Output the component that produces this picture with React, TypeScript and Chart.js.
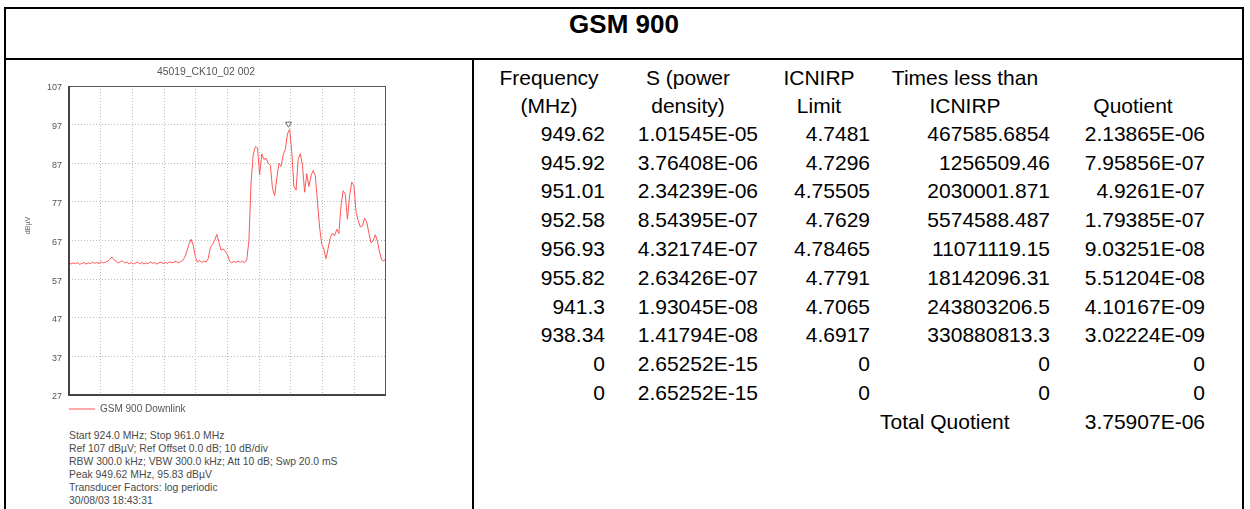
import React, { useEffect, useRef } from "react";
import { Chart, registerables } from "chart.js";

Chart.register(...registerables);

// ---------- spectrum data ----------
const START_MHZ = 924;
const STOP_MHZ = 961;
const STEP_MHZ = 0.25;
const X_DIVISIONS = 10;
const Y_MIN = 27;
const Y_MAX = 107;
const Y_STEP = 10;

const LEVELS_DBUV = [
  61.4, 60.9, 61.2, 61.0, 61.3, 60.8, 61.1, 61.3, 60.9, 61.2,
  61.0, 61.4, 61.1, 61.3, 61.0, 61.5, 61.2, 61.4, 61.6, 62.1,
  62.7, 62.0, 61.6, 61.2, 61.5, 61.7, 61.2, 61.4, 61.0, 61.3,
  60.9, 61.2, 61.4, 61.0, 61.3, 60.9, 61.2, 61.0, 61.5, 61.1,
  61.3, 60.9, 61.2, 61.4, 61.0, 61.3, 61.1, 61.5, 61.2, 61.4,
  61.6, 61.2, 61.5, 61.8, 62.6, 64.2, 66.0, 67.3, 65.8, 62.8,
  61.4, 61.9, 61.3, 61.7, 61.4, 62.3, 65.2, 66.0, 67.0, 68.6,
  66.5, 64.5, 64.8, 64.2, 63.3, 61.6, 61.2, 61.6, 61.3, 61.7,
  61.4, 61.6, 61.3, 62.0, 67.0, 82.0, 89.2, 91.3, 91.0, 84.0,
  89.4, 88.0, 88.3, 87.0, 86.5, 80.5, 78.6, 83.0, 87.0, 86.2,
  89.2, 90.6, 94.6, 95.8, 90.0, 81.0, 80.0, 88.0, 89.5, 86.5,
  79.5, 84.3, 81.0, 83.8, 85.1, 83.8, 77.0, 70.5, 66.0, 64.8,
  62.3, 65.0, 67.8, 68.9, 68.2, 69.9, 68.8, 76.0, 79.9, 79.0,
  72.5, 78.5, 82.1, 81.2, 74.5, 72.2, 70.5, 70.8, 72.8, 71.8,
  69.0, 66.4, 66.9, 68.5, 66.8, 64.0, 62.0, 61.7, 62.5,
];

const PEAK_MHZ = 949.62;
const PEAK_DBUV = 95.83;

const CHART_TITLE = "45019_CK10_02 002";
const TRACE_LABEL = "GSM 900 Downlink";
const Y_UNIT = "dBµV";

const INFO_LINES = [
  "Start 924.0 MHz; Stop 961.0 MHz",
  "Ref 107 dBµV; Ref Offset 0.0 dB; 10 dB/div",
  "RBW 300.0 kHz; VBW 300.0 kHz; Att 10 dB; Swp 20.0 mS",
  "Peak 949.62 MHz, 95.83 dBµV",
  "Transducer Factors: log periodic",
  "30/08/03 18:43:31",
];

// ---------- table data ----------
const TABLE_TITLE = "GSM 900";
const HEADER_LINE1 = ["Frequency", "S (power", "ICNIRP", "Times less than", ""];
const HEADER_LINE2 = ["(MHz)", "density)", "Limit", "ICNIRP", "Quotient"];
const FREQ_COL = ["949.62", "945.92", "951.01", "952.58", "956.93", "955.82", "941.3", "938.34", "0", "0"];
const S_COL = ["1.01545E-05", "3.76408E-06", "2.34239E-06", "8.54395E-07", "4.32174E-07", "2.63426E-07", "1.93045E-08", "1.41794E-08", "2.65252E-15", "2.65252E-15"];
const LIMIT_COL = ["4.7481", "4.7296", "4.75505", "4.7629", "4.78465", "4.7791", "4.7065", "4.6917", "0", "0"];
const TIMES_COL = ["467585.6854", "1256509.46", "2030001.871", "5574588.487", "11071119.15", "18142096.31", "243803206.5", "330880813.3", "0", "0"];
const QUOT_COL = ["2.13865E-06", "7.95856E-07", "4.9261E-07", "1.79385E-07", "9.03251E-08", "5.51204E-08", "4.10167E-09", "3.02224E-09", "0", "0"];
const TOTAL_LABEL = "Total Quotient";
const TOTAL_VALUE = "3.75907E-06";

// ---------- layout ----------
const SANS = '"Liberation Sans", Arial, sans-serif';
const COL_RIGHT = [605, 758, 870, 1050, 1205];
const COL_CENTER = [549, 688, 819, 965, 1133];
const HEAD_BASE = [85, 112.5];
const ROW_BASE0 = 140.5;
const ROW_STEP = 28.8;
const TXT = 21;
const TXT_OFF = 17.78; // baseline offset for 21px font with 21px line-height
const TRACE_COLOR = "rgb(255,85,85)";

const framePlugin = {
  id: "frame",
  afterDatasetsDraw(chart: any) {
    const { ctx, chartArea: a, scales } = chart;
    ctx.save();
    ctx.strokeStyle = "#5a5a5a";
    ctx.lineWidth = 1;
    ctx.strokeRect(a.left + 0.5, a.top + 0.5, a.right - a.left - 1, a.bottom - a.top - 1);
    ctx.strokeStyle = "#444";
    ctx.lineWidth = 2;
    ctx.beginPath();
    ctx.moveTo(a.left, a.top);
    ctx.lineTo(a.left, a.bottom);
    ctx.lineTo(a.right, a.bottom);
    ctx.stroke();
    // peak marker
    const px = scales.x.getPixelForValue(PEAK_MHZ);
    const py = scales.y.getPixelForValue(PEAK_DBUV);
    ctx.beginPath();
    ctx.moveTo(px - 3, py - 7);
    ctx.lineTo(px + 3, py - 7);
    ctx.lineTo(px, py - 2);
    ctx.closePath();
    ctx.fillStyle = "#fff";
    ctx.fill();
    ctx.strokeStyle = "#666";
    ctx.lineWidth = 1;
    ctx.stroke();
    // y unit
    ctx.translate(scales.y.left + 2, (a.top + a.bottom) / 2 - 15);
    ctx.rotate(-Math.PI / 2);
    ctx.font = `7px ${SANS}`;
    ctx.fillStyle = "#666";
    ctx.textAlign = "center";
    ctx.textBaseline = "middle";
    ctx.fillText(Y_UNIT, 0, 0);
    ctx.restore();
  },
};

function SpectrumChart() {
  const ref = useRef<HTMLCanvasElement>(null);
  useEffect(() => {
    const points = LEVELS_DBUV.map((v, i) => ({ x: START_MHZ + i * STEP_MHZ, y: v }));
    const gridStyle = { color: "#bdbdbd", lineWidth: 1, drawTicks: false };
    const chart = new Chart(ref.current as HTMLCanvasElement, {
      type: "line",
      data: {
        datasets: [
          {
            label: TRACE_LABEL,
            data: points,
            borderColor: TRACE_COLOR,
            backgroundColor: TRACE_COLOR,
            borderWidth: 1,
            pointRadius: 0,
            tension: 0,
            fill: false,
          },
        ],
      },
      options: {
        animation: false,
        responsive: false,
        maintainAspectRatio: false,
        events: [],
        layout: { padding: { left: 10, right: 0, top: 0, bottom: 0 } },
        scales: {
          x: {
            type: "linear",
            min: START_MHZ,
            max: STOP_MHZ,
            ticks: { display: false, stepSize: (STOP_MHZ - START_MHZ) / X_DIVISIONS },
            grid: gridStyle,
            border: { display: false, dash: [1, 2] },
            afterFit: (s: any) => {
              s.height = 9;
            },
          },
          y: {
            type: "linear",
            min: Y_MIN,
            max: Y_MAX,
            ticks: {
              stepSize: Y_STEP,
              padding: 7,
              labelOffset: 2,
              color: "#555",
              font: { size: 9, family: SANS },
            },
            grid: gridStyle,
            border: { display: false, dash: [1, 2] },
            afterFit: (s: any) => {
              s.width = 43;
            },
          },
        },
        plugins: {
          title: {
            display: true,
            text: CHART_TITLE,
            color: "#555",
            font: { size: 10.4, family: SANS, weight: "normal", lineHeight: "12px" },
            padding: { top: 4, bottom: 8 },
          },
          legend: {
            display: true,
            position: "bottom",
            align: "start",
            fullSize: false,
            labels: {
              usePointStyle: true,
              pointStyle: "line",
              pointStyleWidth: 26,
              padding: 0,
              color: "#555",
              font: { size: 10, family: SANS },
            },
          },
          tooltip: { enabled: false },
        },
      } as any,
      plugins: [framePlugin],
    });
    return () => chart.destroy();
  }, []);
  return (
    <canvas
      ref={ref}
      width={370}
      height={362}
      style={{ position: "absolute", left: 16, top: 62, width: 370, height: 362 }}
    />
  );
}

function Cell(props: { text: string; base: number; right?: number; center?: number; left?: number }) {
  const { text, base, right, center, left } = props;
  const style: React.CSSProperties = {
    position: "absolute",
    top: base - TXT_OFF,
    font: `${TXT}px ${SANS}`,
    lineHeight: `${TXT}px`,
    whiteSpace: "pre",
    color: "#000",
  };
  if (right !== undefined) {
    style.left = right - 200;
    style.width = 200;
    style.textAlign = "right";
  } else if (center !== undefined) {
    style.left = center - 120;
    style.width = 240;
    style.textAlign = "center";
  } else {
    style.left = left;
  }
  return <div style={style}>{text}</div>;
}

export default function App() {
  const cols = [FREQ_COL, S_COL, LIMIT_COL, TIMES_COL, QUOT_COL];
  const rowBase = (k: number) => ROW_BASE0 + k * ROW_STEP;
  return (
    <div style={{ position: "absolute", left: 0, top: 0, width: 1250, height: 509, overflow: "hidden", background: "#fff" }}>
      {/* frame */}
      <div
        style={{
          position: "absolute",
          left: 4,
          top: 7,
          width: 1240,
          height: 502,
          boxSizing: "border-box",
          borderTop: "2px solid #000",
          borderLeft: "2px solid #000",
          borderRight: "2px solid #000",
        }}
      />
      <div style={{ position: "absolute", left: 4, top: 58, width: 1240, height: 2, background: "#000" }} />
      <div style={{ position: "absolute", left: 472, top: 58, width: 2, height: 451, background: "#000" }} />
      {/* title */}
      <div
        style={{
          position: "absolute",
          left: 6,
          width: 1236,
          top: 11.3,
          textAlign: "center",
          font: `bold 26px ${SANS}`,
          lineHeight: "26px",
          color: "#000",
        }}
      >
        {TABLE_TITLE}
      </div>
      {/* chart */}
      <SpectrumChart />
      <div
        style={{
          position: "absolute",
          left: 69,
          top: 428.6,
          font: `10.4px ${SANS}`,
          lineHeight: "13px",
          color: "#4a4a4a",
          whiteSpace: "pre",
        }}
      >
        {INFO_LINES.join("\n")}
      </div>
      {/* table headers */}
      {HEADER_LINE1.map((t, i) => (t ? <Cell key={"h1" + i} text={t} base={HEAD_BASE[0]} center={COL_CENTER[i]} /> : null))}
      {HEADER_LINE2.map((t, i) => (t ? <Cell key={"h2" + i} text={t} base={HEAD_BASE[1]} center={COL_CENTER[i]} /> : null))}
      {cols.map((col, c) =>
        col.map((t, r) => <Cell key={c + "-" + r} text={t} base={rowBase(r)} right={COL_RIGHT[c]} />)
      )}
      <Cell text={TOTAL_LABEL} base={rowBase(FREQ_COL.length)} left={880} />
      <Cell text={TOTAL_VALUE} base={rowBase(FREQ_COL.length)} right={COL_RIGHT[4]} />
    </div>
  );
}
